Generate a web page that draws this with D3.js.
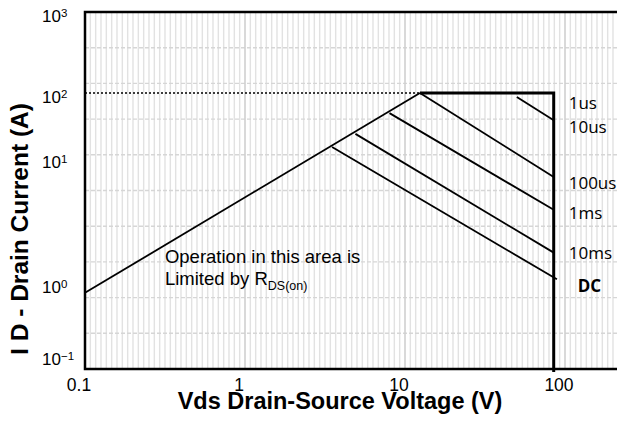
<!DOCTYPE html>
<html lang="en">
<head>
<meta charset="UTF-8">
<title>Safe Operating Area</title>
<style>
  body { margin: 0; background: #fff; }
  svg text { font-family: "Liberation Sans", Arial, sans-serif; fill: #000; }
  .pulse-label { font-family: "Open Sans", "Noto Sans", sans-serif; font-size: 17px; }
</style>
<script src="https://d3js.org/d3.v7.min.js"></script>
</head>
<body>
<script>
// axis ticks
const xTicks = [0.1, 1, 10, 100];
const xTickLabels = ["0.1", "1", "10", "100"];
const yTicks = [0.1, 1, 10, 100, 1000];
const yTickExp = ["\u22121", "0", "1", "2", "3"];

// RDS(on) limited line (V, A)
const rdsV = [0.1, 12.4];
const rdsI = [0.73, 100];

// package current limit and max Vds
const limitI = 100;
const limitV = 85;
const limitFloorI = 0.058;

// pulse width lines, start and end (V, A)
const pulseStartV = [50, 12.4, 8, 4.9, 3.5];
const pulseStartI = [87, 100, 49, 23.5, 14.8];
const pulseEndV = [85, 85, 85, 85, 89];
const pulseEndI = [38, 7.05, 3.85, 1.75, 1.07];

// labels on the right
const pulseLabels = ["1us", "10us", "100us", "1ms", "10ms", "DC"];
const pulseLabelI = [70, 30, 6.3, 3.6, 1.75, 0.91];

const width = 617, height = 423;
const plot = { left: 85, top: 12, bottom: 369 };

const svg = d3.select("body").append("svg")
  .attr("width", width)
  .attr("height", height);

const x = d3.scaleLog().domain([0.1, 100]).range([85, 565]);
// the y axis of the original is not evenly spaced per decade
const y = d3.scaleLog().domain([0.1, 1, 10, 100, 1000]).range([355, 283, 158, 93, 12]);
const gridY = d3.scaleLinear().domain([0, 10]).range([plot.bottom, plot.top]);

// minor vertical grid, 30 per decade
const minorV = d3.range(1, 102).filter(k => k % 30 !== 0).map(k => 0.1 * Math.pow(10, k / 30));
svg.append("g").selectAll("line")
  .data(minorV)
  .join("line")
  .attr("x1", d => x(d)).attr("x2", d => x(d))
  .attr("y1", plot.top).attr("y2", plot.bottom)
  .attr("stroke", "#e2e2e2")
  .attr("stroke-width", 1.4);

// horizontal grid
svg.append("g").selectAll("line")
  .data(d3.range(1, 10))
  .join("line")
  .attr("x1", plot.left).attr("x2", width)
  .attr("y1", d => gridY(d)).attr("y2", d => gridY(d))
  .attr("stroke", "#d6d6d6")
  .attr("stroke-width", 1.4)
  .attr("stroke-dasharray", "4,2");

// major vertical grid
svg.append("g").selectAll("line")
  .data(xTicks.slice(1))
  .join("line")
  .attr("x1", d => x(d)).attr("x2", d => x(d))
  .attr("y1", plot.top).attr("y2", plot.bottom)
  .attr("stroke", "#d0d0d0")
  .attr("stroke-width", 1.6);

// frame (open on the right, runs off the picture)
svg.append("rect")
  .attr("x", plot.left).attr("y", plot.top)
  .attr("width", width).attr("height", plot.bottom - plot.top)
  .attr("fill", "none")
  .attr("stroke", "#000")
  .attr("stroke-width", 2.5);

const line = d3.line().x(d => x(d[0])).y(d => y(d[1]));

// dotted 100 A reference
svg.append("path")
  .attr("d", line([[rdsV[0], limitI], [rdsV[1], limitI]]))
  .attr("fill", "none")
  .attr("stroke", "#000")
  .attr("stroke-width", 1.5)
  .attr("stroke-dasharray", "2,2");

// RDS(on) line
svg.append("path")
  .attr("d", line(rdsV.map((v, i) => [v, rdsI[i]])))
  .attr("fill", "none")
  .attr("stroke", "#000")
  .attr("stroke-width", 1.8);

// pulse lines
svg.append("g").selectAll("path")
  .data(pulseStartV.map((v, i) => [[v, pulseStartI[i]], [pulseEndV[i], pulseEndI[i]]]))
  .join("path")
  .attr("d", line)
  .attr("fill", "none")
  .attr("stroke", "#000")
  .attr("stroke-width", 1.8);

// current and voltage limit
svg.append("path")
  .attr("d", line([[rdsV[1], limitI], [limitV, limitI], [limitV, limitFloorI]]))
  .attr("fill", "none")
  .attr("stroke", "#000")
  .attr("stroke-width", 3);

// labels for pulse widths
svg.append("g").selectAll("text")
  .data(pulseLabels)
  .join("text")
  .attr("class", "pulse-label")
  .attr("x", d => x(limitV) + (d === "DC" ? 24 : 15))
  .attr("y", (d, i) => y(pulseLabelI[i]))
  .attr("dy", "0.35em")
  .attr("font-weight", d => d === "DC" ? "bold" : "normal")
  .text(d => d);

// annotation
const note = svg.append("g").attr("font-size", 18.5);
note.append("text")
  .attr("x", x(0.316)).attr("y", y(1.45))
  .text("Operation in this area is");
const note2 = note.append("text")
  .attr("x", x(0.316)).attr("y", y(0.93));
note2.append("tspan").text("Limited by R");
note2.append("tspan").attr("font-size", 12.5).attr("dy", 5).text("DS(on)");

// x tick labels
svg.append("g").selectAll("text")
  .data(xTicks)
  .join("text")
  .attr("x", d => x(d) - 6)
  .attr("y", 391)
  .attr("text-anchor", "middle")
  .attr("font-size", 17.5)
  .text((d, i) => xTickLabels[i]);

// y tick labels
const yl = svg.append("g").selectAll("text")
  .data(yTicks)
  .join("text")
  .attr("x", 42)
  .attr("y", d => y(d) + 10)
  .attr("font-size", 17);
yl.append("tspan").text("10");
yl.append("tspan")
  .attr("font-size", 11.5)
  .attr("dy", -5)
  .text((d, i) => yTickExp[i]);

// axis titles
svg.append("text")
  .attr("x", 340).attr("y", 409)
  .attr("text-anchor", "middle")
  .attr("font-size", 23.5)
  .attr("font-weight", "bold")
  .text("Vds Drain-Source Voltage (V)");

svg.append("text")
  .attr("transform", "translate(28,229) rotate(-90)")
  .attr("text-anchor", "middle")
  .attr("font-size", 24.5)
  .attr("font-weight", "bold")
  .text("I D - Drain Current (A)");
</script>
</body>
</html>
